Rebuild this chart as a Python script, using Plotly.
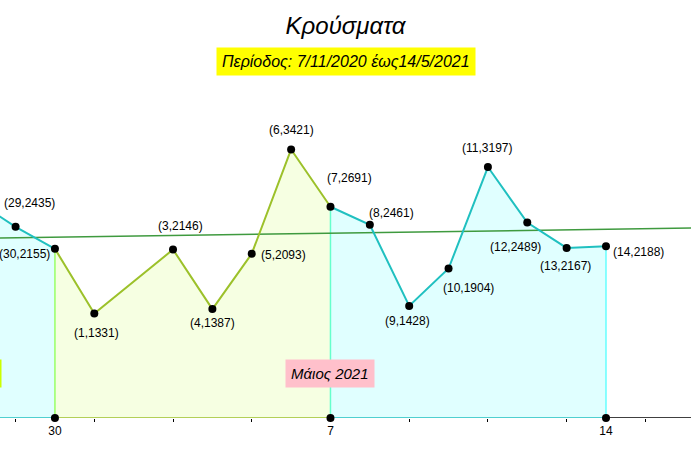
import plotly.graph_objects as go
import pandas as pd

# daily cases, 28/4/2021 - 14/5/2021 (no report on 2/5)
dates = ["2021-04-28", "2021-04-29", "2021-04-30", "2021-05-01", "2021-05-03",
         "2021-05-04", "2021-05-05", "2021-05-06", "2021-05-07", "2021-05-08",
         "2021-05-09", "2021-05-10", "2021-05-11", "2021-05-12", "2021-05-13",
         "2021-05-14"]
cases = [2764, 2435, 2155, 1331, 2146, 1387, 2093, 3421, 2691, 2461,
         1428, 1904, 3197, 2489, 2167, 2188]

# segments split at these dates
segment_bounds = ["2021-04-28", "2021-04-30", "2021-05-07", "2021-05-14"]
tick_dates = ["2021-04-30", "2021-05-07", "2021-05-14"]
tick_text = ["30", "7", "14"]
month_labels = ["Απρίλιος 2021", "Μάιος 2021"]

x_range = ["2021-04-28 14:30", "2021-05-16 03:50"]
trend_values = [2293, 2420]

title = "Κρούσματα"
subtitle = "Περίοδος: 7/11/2020 έως14/5/2021"

# styles
seg_line = ["#20c0c0", "#9cc12a", "#20c0c0"]
seg_fill = ["#e0ffff", "#f6ffe2", "#e0ffff"]
seg_edge = ["#99ff66", "#66ffcc", "#66ffff"]
label_shift = [None, (14, 24), (-30, -5), (2, -19), (7, 24), (0, -14), (32, -1),
               (0, 19), (19, 29), (22, 12), (-2, -15), (20, -19), (-1, 19),
               (-12, -24), (-1, -18), (33, -6)]
FONT = "Liberation Sans, Arial, sans-serif"

df = pd.DataFrame({"date": pd.to_datetime(dates), "cases": cases})
bounds = pd.to_datetime(segment_bounds)

fig = go.Figure()

# filled areas
for i in range(3):
    seg = df[(df.date >= bounds[i]) & (df.date <= bounds[i + 1])]
    fig.add_trace(go.Scatter(x=seg.date, y=seg.cases, mode="none", fill="tozeroy",
                             fillcolor=seg_fill[i], hoverinfo="skip"))

# vertical edges at segment borders
for i, b in enumerate(bounds[1:]):
    v = df.loc[df.date == b, "cases"].iloc[0]
    fig.add_trace(go.Scatter(x=[b, b], y=[0, v], mode="lines",
                             line=dict(color=seg_edge[i], width=1.5), hoverinfo="skip"))

# trend line
fig.add_trace(go.Scatter(x=pd.to_datetime(x_range), y=trend_values, mode="lines",
                         line=dict(color="#3f9a3f", width=1.5), hoverinfo="skip"))

# x axis line: black after the last point, coloured under each segment
fig.add_trace(go.Scatter(x=[bounds[-1], pd.to_datetime(x_range[1])], y=[0, 0],
                         mode="lines", cliponaxis=False,
                         line=dict(color="black", width=1.5)))

# polyline segments + coloured baseline
for i in range(3):
    seg = df[(df.date >= bounds[i]) & (df.date <= bounds[i + 1])]
    fig.add_trace(go.Scatter(x=seg.date, y=seg.cases, mode="lines",
                             line=dict(color=seg_line[i], width=2)))
    fig.add_trace(go.Scatter(x=[seg.date.iloc[0], seg.date.iloc[-1]], y=[0, 0],
                             mode="lines", cliponaxis=False,
                             line=dict(color=seg_line[i], width=1.5)))

# points
fig.add_trace(go.Scatter(x=df.date, y=df.cases, mode="markers",
                         marker=dict(color="black", size=8)))
fig.add_trace(go.Scatter(x=pd.to_datetime(tick_dates), y=[0] * len(tick_dates),
                         mode="markers", cliponaxis=False,
                         marker=dict(color="black", size=8)))

for i, row in df.iterrows():
    if label_shift[i] is None:
        continue
    dx, dy = label_shift[i]
    fig.add_annotation(x=row.date, y=row.cases, text=f"({row.date.day},{row.cases})",
                       showarrow=False, xshift=dx, yshift=dy,
                       font=dict(family=FONT, size=12, color="black"))

# month labels
fig.add_annotation(x="2021-04-28 16:00", y=570, text=month_labels[0], showarrow=False,
                   xanchor="right", bgcolor="#ccff00", borderpad=5,
                   font=dict(family=FONT, size=15, color="black", style="italic"))
fig.add_annotation(x="2021-05-07", y=570, text=month_labels[1], showarrow=False,
                   bgcolor="pink", borderpad=5,
                   font=dict(family=FONT, size=15, color="black", style="italic"))

fig.add_annotation(xref="paper", yref="paper", x=0.5, y=0.852, yanchor="middle",
                   text=subtitle, showarrow=False, bgcolor="yellow", borderpad=5,
                   font=dict(family=FONT, size=16, color="black", style="italic"))

fig.update_layout(
    width=691,
    height=458,
    margin=dict(l=0, r=0, t=0, b=40),
    showlegend=False,
    plot_bgcolor="white",
    paper_bgcolor="white",
    title=dict(text=title, x=0.5, xanchor="center", y=0.945, yanchor="middle",
               font=dict(family=FONT, size=24, color="black", style="italic")),
    xaxis=dict(
        type="date",
        range=x_range,
        showgrid=False,
        zeroline=False,
        showline=False,
        tickmode="array",
        tickvals=tick_dates,
        ticktext=tick_text,
        ticks="",
        ticklabelstandoff=4,
        tickfont=dict(family=FONT, size=12, color="black"),
        minor=dict(ticks="outside", ticklen=3, tickwidth=1, tickcolor="black",
                   dtick=2 * 86400000, tick0="2021-04-29", showgrid=False),
    ),
    yaxis=dict(range=[0, 5325], visible=False, showgrid=False),
)

# page has a default 8px body margin; drop it so the chart fills the window
fig.write_html("out.html", config={"displayModeBar": False},
               post_script="document.body.style.margin='0';")
